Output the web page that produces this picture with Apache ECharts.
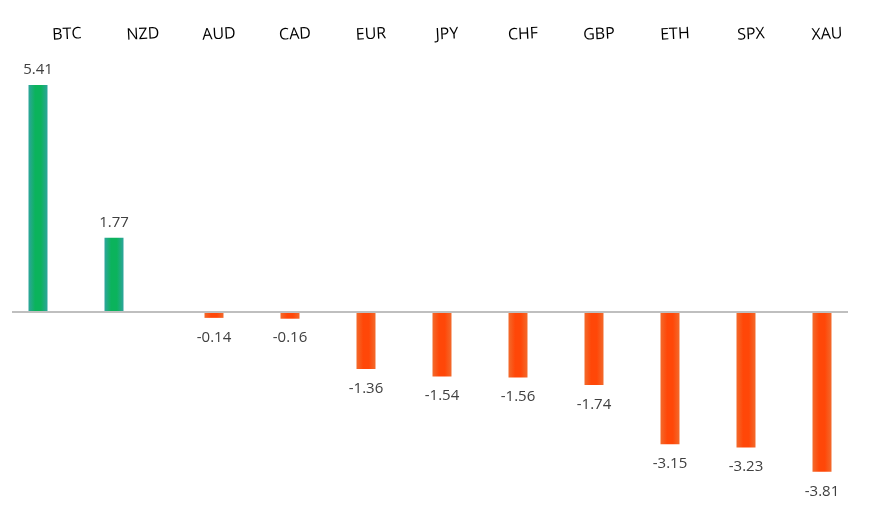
<!DOCTYPE html>
<html>
<head>
<meta charset="utf-8">
<script src="https://cdn.jsdelivr.net/npm/echarts@6/dist/echarts.min.js"></script>
<style>
html,body{margin:0;padding:0;background:#fff;}
#chart{width:870px;height:517px;}
</style>
</head>
<body>
<div id="chart"></div>
<script>
var categories = ['BTC','NZD','AUD','CAD','EUR','JPY','CHF','GBP','ETH','SPX','XAU'];
var values = [5.41, 1.77, -0.14, -0.16, -1.36, -1.54, -1.56, -1.74, -3.15, -3.23, -3.81];

var posData = values.map(function(v){ return v >= 0 ? v : '-'; });
var negData = values.map(function(v){ return v < 0 ? v : '-'; });

var greenGrad = new echarts.graphic.LinearGradient(0,0,1,0,[
  {offset:0,color:'#2ea59c'},{offset:0.35,color:'#0bb35c'},{offset:0.65,color:'#0bb35c'},{offset:1,color:'#2ea59c'}
]);
var orangeGrad = new echarts.graphic.LinearGradient(0,0,1,0,[
  {offset:0,color:'#f26a2c'},{offset:0.35,color:'#ff4708'},{offset:0.65,color:'#ff4708'},{offset:1,color:'#f26a2c'}
]);

var chart = echarts.init(document.getElementById('chart'));
chart.setOption({
  animation:false,
  backgroundColor:'#fff',
  grid:{left:12,right:22,top:60.3,bottom:37.2,containLabel:false},
  xAxis:{
    type:'category',
    data:categories,
    position:'top',
    axisLine:{show:false},
    axisTick:{show:false},
    axisLabel:{
      show:true,
      interval:0,
      margin:25,
      rotate:3,
      align:'center',
      verticalAlign:'middle',
      color:'#000',
      fontFamily:'Open Sans',
      fontSize:16,
      padding:[0,0,0,34]
    }
  },
  yAxis:{
    type:'value',
    min:-4,
    max:6,
    show:false,
    splitLine:{show:false}
  },
  series:[{
    type:'bar',
    data:posData,
    barWidth:19,
    barGap:'26.3%',
    itemStyle:{color:greenGrad},
    label:{show:true,position:'top',distance:8,color:'#404040',fontFamily:'Open Sans',fontSize:15,formatter:function(p){return p.value.toFixed(2);}},
    markLine:{
      silent:true,
      symbol:['none','none'],
      label:{show:false},
      lineStyle:{color:'#bfbfbf',width:2,type:'solid'},
      data:[{yAxis:0}]
    }
  },{
    type:'bar',
    data:negData,
    barWidth:19,
    barGap:'26.3%',
    itemStyle:{color:orangeGrad},
    label:{show:true,position:'bottom',distance:12,color:'#404040',fontFamily:'Open Sans',fontSize:15,formatter:function(p){return p.value.toFixed(2);}}
  }]
});
</script>
</body>
</html>
